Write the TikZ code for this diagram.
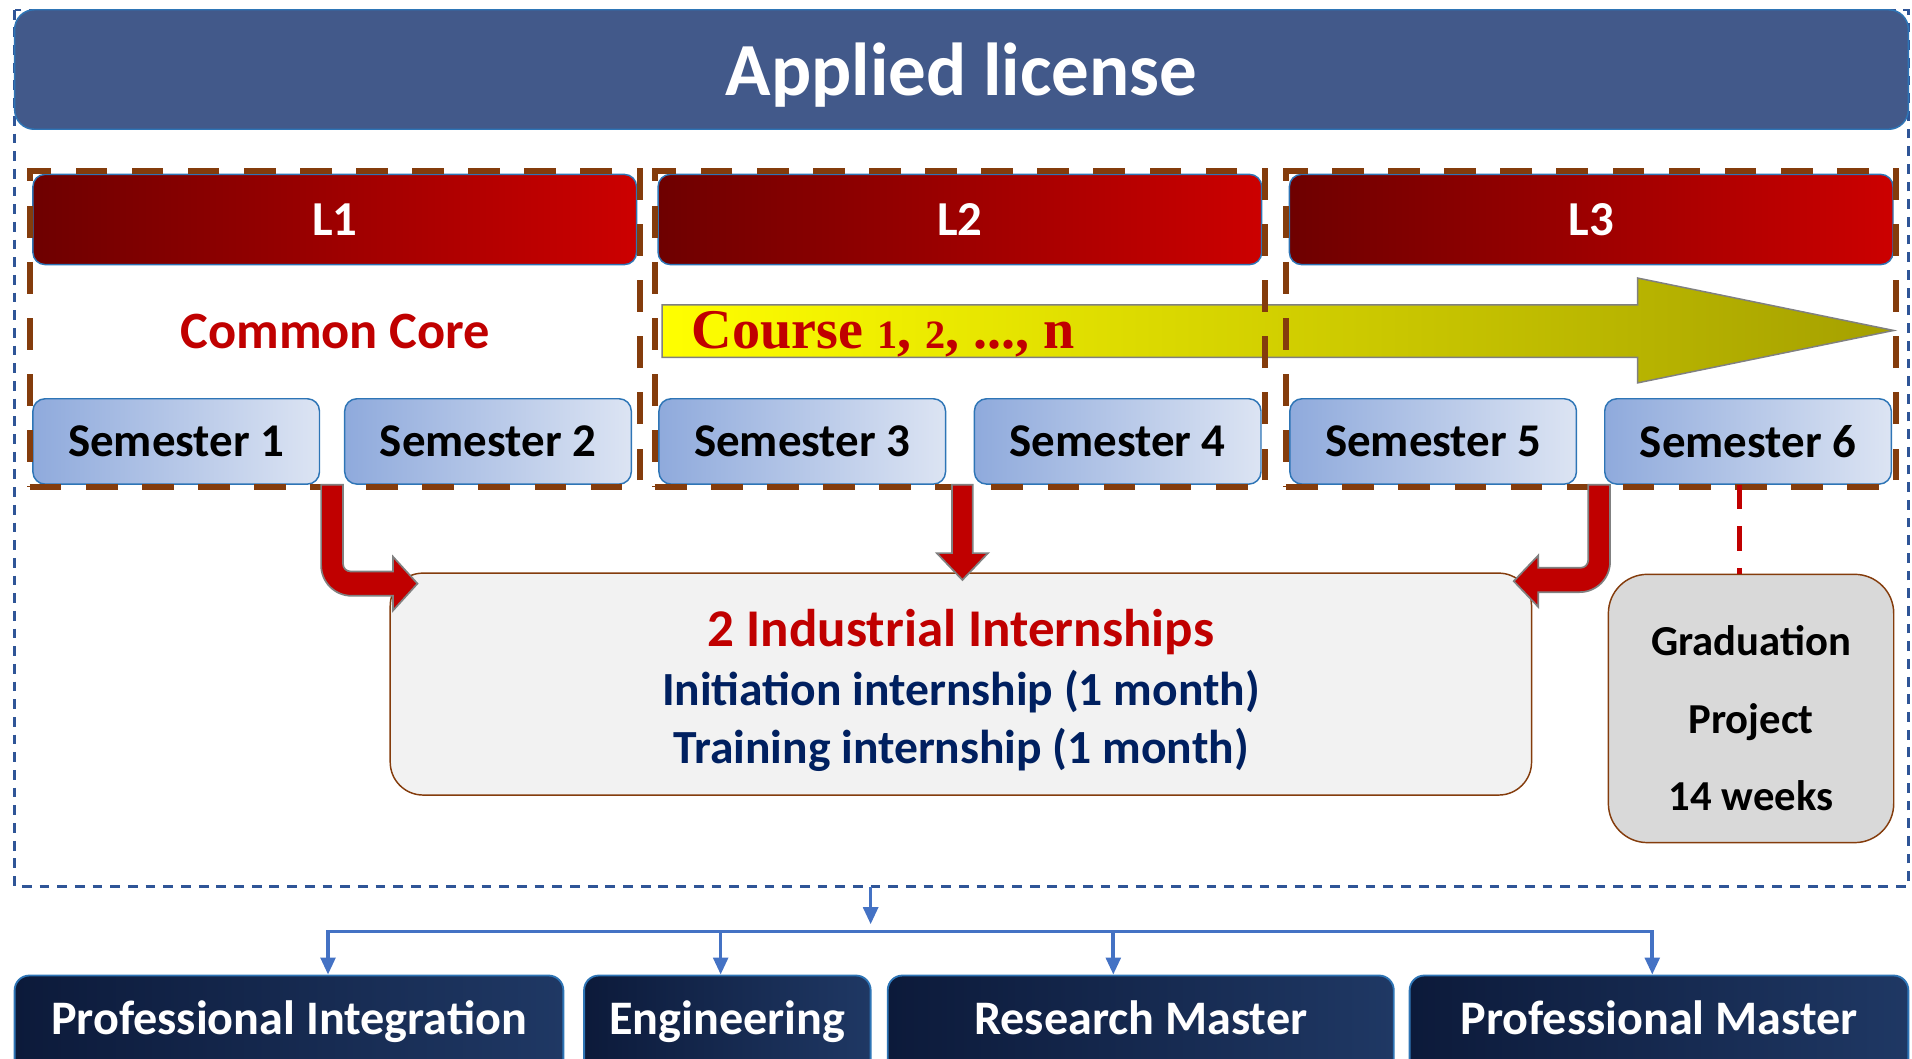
\documentclass[tikz,border=0pt]{standalone}
\usepackage{fontspec}
\setmainfont{Carlito}
\newfontfamily\coursefont{Liberation Serif}
\usetikzlibrary{positioning,fit,calc,arrows.meta}

\definecolor{headblue}{RGB}{66,89,138}
\definecolor{edgeblue}{RGB}{46,117,182}
\definecolor{framedash}{RGB}{47,85,151}
\definecolor{darkred}{RGB}{110,0,0}
\definecolor{brightred}{RGB}{204,0,0}
\definecolor{corered}{RGB}{192,0,0}
\definecolor{brownline}{RGB}{132,60,12}
\definecolor{semleft}{RGB}{143,170,220}
\definecolor{semright}{RGB}{220,228,243}
\definecolor{midyellow}{RGB}{228,226,0}
\definecolor{olive}{RGB}{165,160,0}
\definecolor{navytext}{RGB}{0,32,96}
\definecolor{boxgray}{RGB}{242,242,242}
\definecolor{gradgray}{RGB}{217,217,217}
\definecolor{outleft}{RGB}{12,26,58}
\definecolor{outright}{RGB}{31,56,100}
\definecolor{linkblue}{RGB}{68,114,196}

\newcommand\osn[1]{{\fontsize{33}{33}\selectfont#1}}

\tikzset{
    titlebar/.style={rounded corners=16pt, draw=edgeblue, line width=1.2pt,
        fill=headblue, minimum width=1553pt, minimum height=98pt,
        text=white, font=\fontsize{61.5}{66}\selectfont\bfseries,
        text height=42pt, text depth=0pt},
    lbox/.style={rounded corners=10pt, draw=edgeblue, line width=1.2pt,
        left color=darkred, right color=brightred,
        minimum width=495pt, minimum height=74pt,
        text=white, font=\fontsize{40}{48}\selectfont\bfseries},
    semestbox/.style={rounded corners=10pt, draw=edgeblue, line width=1.2pt,
        left color=semleft, right color=semright,
        minimum width=235pt, minimum height=70pt, inner sep=0pt,
        font=\fontsize{38.5}{46}\selectfont\bfseries},
    groupframe/.style={draw=brownline, line width=5pt,
        dash pattern=on 26pt off 20pt, inner sep=2pt},
    redblock/.style={fill=corered, draw=gray, line width=1.4pt},
    internbox/.style={rounded corners=27pt, draw=brownline, line width=1.2pt,
        fill=boxgray, minimum width=936pt, minimum height=182pt},
    interntext/.style={align=center, font=\fontsize{39}{47}\selectfont\bfseries},
    gradbox/.style={rounded corners=32pt, draw=brownline, line width=1.2pt,
        fill=gradgray, minimum width=234pt, minimum height=220pt},
    gradtext/.style={align=center, font=\fontsize{35}{63.5}\selectfont\bfseries},
    outcome/.style={rounded corners=12pt, draw=edgeblue, line width=1.5pt,
        left color=outleft, right color=outright, inner sep=0pt,
        text=white, font=\fontsize{39.5}{44}\selectfont\bfseries,
        text height=48pt, text depth=40pt, anchor=base},
    bluelink/.style={draw=linkblue, line width=3pt},
    bluearrow/.style={bluelink, -{Triangle[width=12pt,length=14pt]}}
}

\begin{document}
\begin{tikzpicture}[x=1pt, y=-1pt]
\useasboundingbox (0,0) rectangle (1568,868);
\clip (0,0) rectangle (1568,868);

% frame of the licence
\draw[framedash, line width=2pt, dash pattern=on 8pt off 6.5pt] (12,8) rectangle (1565,727);
\node[titlebar] (title) at (788.5,57) {Applied license};

% the three years
\node[lbox] (l1) at (274.5,180) {L1};
\node[lbox, right=16.5pt of l1] (l2) {L2};
\node[lbox, right=21.5pt of l2] (l3) {L3};

\node[semestbox] (s1) at (144.5,362) {Semester 1};
\node[semestbox, right=19.5pt of s1] (s2) {Semester 2};
\node[semestbox, right=21.5pt of s2] (s3) {Semester 3};
\node[semestbox, right=22.5pt of s3] (s4) {Semester 4};
\node[semestbox, right=22.5pt of s4] (s5) {Semester 5};
\node[semestbox, right=22pt of s5] (s6) {Semester 6};

\node[text=corered, font=\fontsize{43}{50}\selectfont\bfseries] (core) at (275,272) {Common Core};

% courses arrow
\shade[left color=yellow, middle color=midyellow, right color=olive, draw=gray, line width=1.2pt]
    (543,250) -- (1343,250) -- (1343,228) -- (1553,271) -- (1343,314) -- (1343,293) -- (543,293) -- cycle;
\node[anchor=base west, text=corered, font=\coursefont\fontsize{46}{50}\selectfont\bfseries, inner sep=0pt]
    (course) at (567,286) {Course \osn{1}, \osn{2}, ..., n};

\node[groupframe, fit=(l1)(s1)(s2)] (g1) {};
\node[groupframe, fit=(l2)(s3)(s4)] (g2) {};
\node[groupframe, fit=(l3)(s5)(s6)] (g3) {};

% internships and project
\node[internbox] (intern) at (788,561) {};
\node[interntext] (interntxt) at ($(intern.center)+(0,5)$)
    {{\color{corered}\fontsize{43.5}{47}\selectfont 2 Industrial Internships}\\[2pt]
     {\color{navytext}Initiation internship (1 month)}\\
     {\color{navytext}Training internship (1 month)}};
\node[gradbox] (grad) at (1436,581) {};
\node[gradtext] (gradtxt) at ($(grad.center)+(0,8)$) {Graduation\\Project\\14 weeks};
\draw[corered, line width=4pt, dash pattern=on 20pt off 14pt]
    ([xshift=-7pt]s6.south) -- ([xshift=-7pt]s6.south |- grad.north);

\coordinate (a1) at ($(s1.south east)!0.5!(s2.south west)$);
\coordinate (a2) at ($(s3.south east)!0.5!(s4.south west)+(2,0)$);
\coordinate (a3) at ($(s5.south east)!0.5!(s6.south west)+(7,0)$);
\begin{scope}[shift={(a1)}]
\draw[redblock] (-9,0) -- (-9,66) .. controls (-9,79.8) and (2.2,91) .. (16,91) -- (50,91)
    -- (50,103) -- (70,81) -- (50,59) -- (50,71) -- (15,71)
    .. controls (11.7,71) and (9,68.3) .. (9,65) -- (9,0) -- cycle;
\end{scope}
\begin{scope}[shift={(a2)}]
\draw[redblock] (-8.5,0) -- (-8.5,56) -- (-21,56) -- (0,78) -- (21,56) -- (8.5,56) -- (8.5,0) -- cycle;
\end{scope}
\begin{scope}[shift={(a3)}]
\draw[redblock] (9,0) -- (9,63) .. controls (9,76.8) and (-2.2,88) .. (-16,88) -- (-50,88)
    -- (-50,100) -- (-70,79) -- (-50,58) -- (-50,68) -- (-15,68)
    .. controls (-11.7,68) and (-9,65.3) .. (-9,62) -- (-9,0) -- cycle;
\end{scope}

% what comes next
\node[outcome, minimum width=450pt] (o1) at (237,848) {Professional Integration};
\node[outcome, minimum width=235pt] (o2) at (596.5,848) {Engineering};
\node[outcome, minimum width=415pt] (o3) at (935.5,848) {Research Master};
\node[outcome, minimum width=409pt] (o4) at (1360.5,848) {Professional Master};

\coordinate (fb) at (714,727);
\coordinate (t1) at (269,764);
\coordinate (t2) at (591,764);
\coordinate (t3) at (913,764);
\coordinate (t4) at (1355,764);
\draw[bluearrow] (fb) -- ++(0,31);
\draw[bluelink, line cap=rect] (t1) -- (t4);
\draw[bluearrow] (t1) -- (t1 |- o1.north);
\draw[bluearrow] (t2) -- (t2 |- o2.north);
\draw[bluearrow] (t3) -- (t3 |- o3.north);
\draw[bluearrow] (t4) -- (t4 |- o4.north);
\end{tikzpicture}
\end{document}
